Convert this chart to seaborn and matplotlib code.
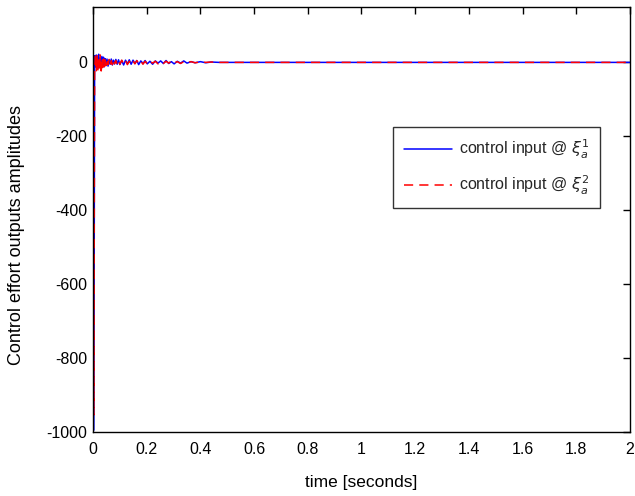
import numpy as np
import pandas as pd
import matplotlib
matplotlib.use("Agg")
import matplotlib.pyplot as plt
import seaborn as sns

# time samples (seconds): dense early transient, then flat to 2 s
time_early = [0.000, 0.003, 0.006, 0.009, 0.012, 0.015, 0.018, 0.021, 0.024, 0.027,
              0.030, 0.033, 0.036, 0.039, 0.042, 0.045, 0.048, 0.052, 0.056, 0.060,
              0.064, 0.068, 0.072, 0.076, 0.080, 0.085, 0.090, 0.095, 0.100, 0.107,
              0.114, 0.121, 0.128, 0.135, 0.142, 0.149, 0.156, 0.163, 0.170, 0.178,
              0.186, 0.194, 0.202, 0.212, 0.222, 0.232, 0.242, 0.252, 0.262, 0.272,
              0.282, 0.292, 0.302, 0.314, 0.326, 0.338, 0.350, 0.365, 0.380, 0.400,
              0.420, 0.440, 0.470, 0.500, 1.000, 2.000]

blue_u1 = [0, -995, 18, -12, 20, -15, 10, 22, -14, 12,
           -9, 16, -8, 14, -12, 10, -6, 9, -10, 7,
           -5, 9, -7, 6, -4, 8, -5, 7, -6, 5,
           -7, 6, -4, 7, -5, 6, -3, 5, -6, 4,
           -3, 5, -4, 3, -5, 4, -2, 4, -3, 5,
           -3, 2, -4, 3, -2, 4, -2, 2, -1, 2,
           -1, 1, 0, 0, 0, 0]

red_u2 = [0, -954, -12, 24, -26, 18, -22, 14, -18, 20,
          -32, 12, -14, 9, -11, 7, -9, 10, -6, 8,
          -7, 5, -6, 7, -4, 5, -6, 4, -5, 6,
          -4, 5, -6, 3, -5, 4, -4, 5, -3, 4,
          -5, 3, -4, 4, -2, 3, -4, 2, -3, 3,
          -2, 4, -2, 2, -3, 2, -1, 2, -1, 1,
          0, 1, 0, 0, 0, 0]

series_labels = [r"control input @ $\xi_a^1$", r"control input @ $\xi_a^2$"]
x_ticks = [0, 0.2, 0.4, 0.6, 0.8, 1, 1.2, 1.4, 1.6, 1.8, 2]
x_tick_labels = ["0", "0.2", "0.4", "0.6", "0.8", "1", "1.2", "1.4", "1.6", "1.8", "2"]
y_ticks = [-1000, -800, -600, -400, -200, 0]
y_tick_labels = ["-1000", "-800", "-600", "-400", "-200", "0"]

df = pd.DataFrame({
    "t": time_early + time_early,
    "u": blue_u1 + red_u2,
    "series": [series_labels[0]] * len(time_early) + [series_labels[1]] * len(time_early),
})

sns.set_theme(style="white")
plt.rcParams["font.family"] = ["Liberation Sans", "DejaVu Sans"]
plt.rcParams["mathtext.fontset"] = "dejavusans"
plt.rcParams["axes.unicode_minus"] = False

fig = plt.figure(figsize=(6.35, 4.96), dpi=100)
ax = fig.add_axes([0.1465, 0.129, 0.8455, 0.857])

sns.lineplot(data=df, x="t", y="u", hue="series", style="series",
             palette=["#0000ff", "#ff0000"], dashes=[(None, None), (6, 4)],
             linewidth=1.1, ax=ax, legend=True, sort=False, estimator=None)

ax.set_xlim(0, 2)
ax.set_ylim(-1000, 150)
ax.set_xticks(x_ticks)
ax.set_xticklabels(x_tick_labels)
ax.set_yticks(y_ticks)
ax.set_yticklabels(y_tick_labels)
ax.tick_params(direction="in", top=True, right=True, length=5, width=1,
               labelsize=11.5, colors="black")
ax.tick_params(axis="x", pad=7)
ax.tick_params(axis="y", pad=4)
for s in ax.spines.values():
    s.set_color("black")
    s.set_linewidth(1.0)
ax.set_xlabel("time [seconds]", fontsize=12.5, color="black", labelpad=13)
ax.set_ylabel("Control effort outputs amplitudes", fontsize=13, color="black")
ax.yaxis.set_label_coords(-0.127, 0.464)

leg = ax.legend(loc="upper left", bbox_to_anchor=(0.559, 0.718), borderaxespad=0,
                frameon=True, fancybox=False, edgecolor="black", fontsize=11.5,
                handlelength=3.0, borderpad=0.7, labelspacing=0.8, handletextpad=0.4)
leg.get_frame().set_linewidth(1.0)

fig.savefig("out.png", dpi=100)
